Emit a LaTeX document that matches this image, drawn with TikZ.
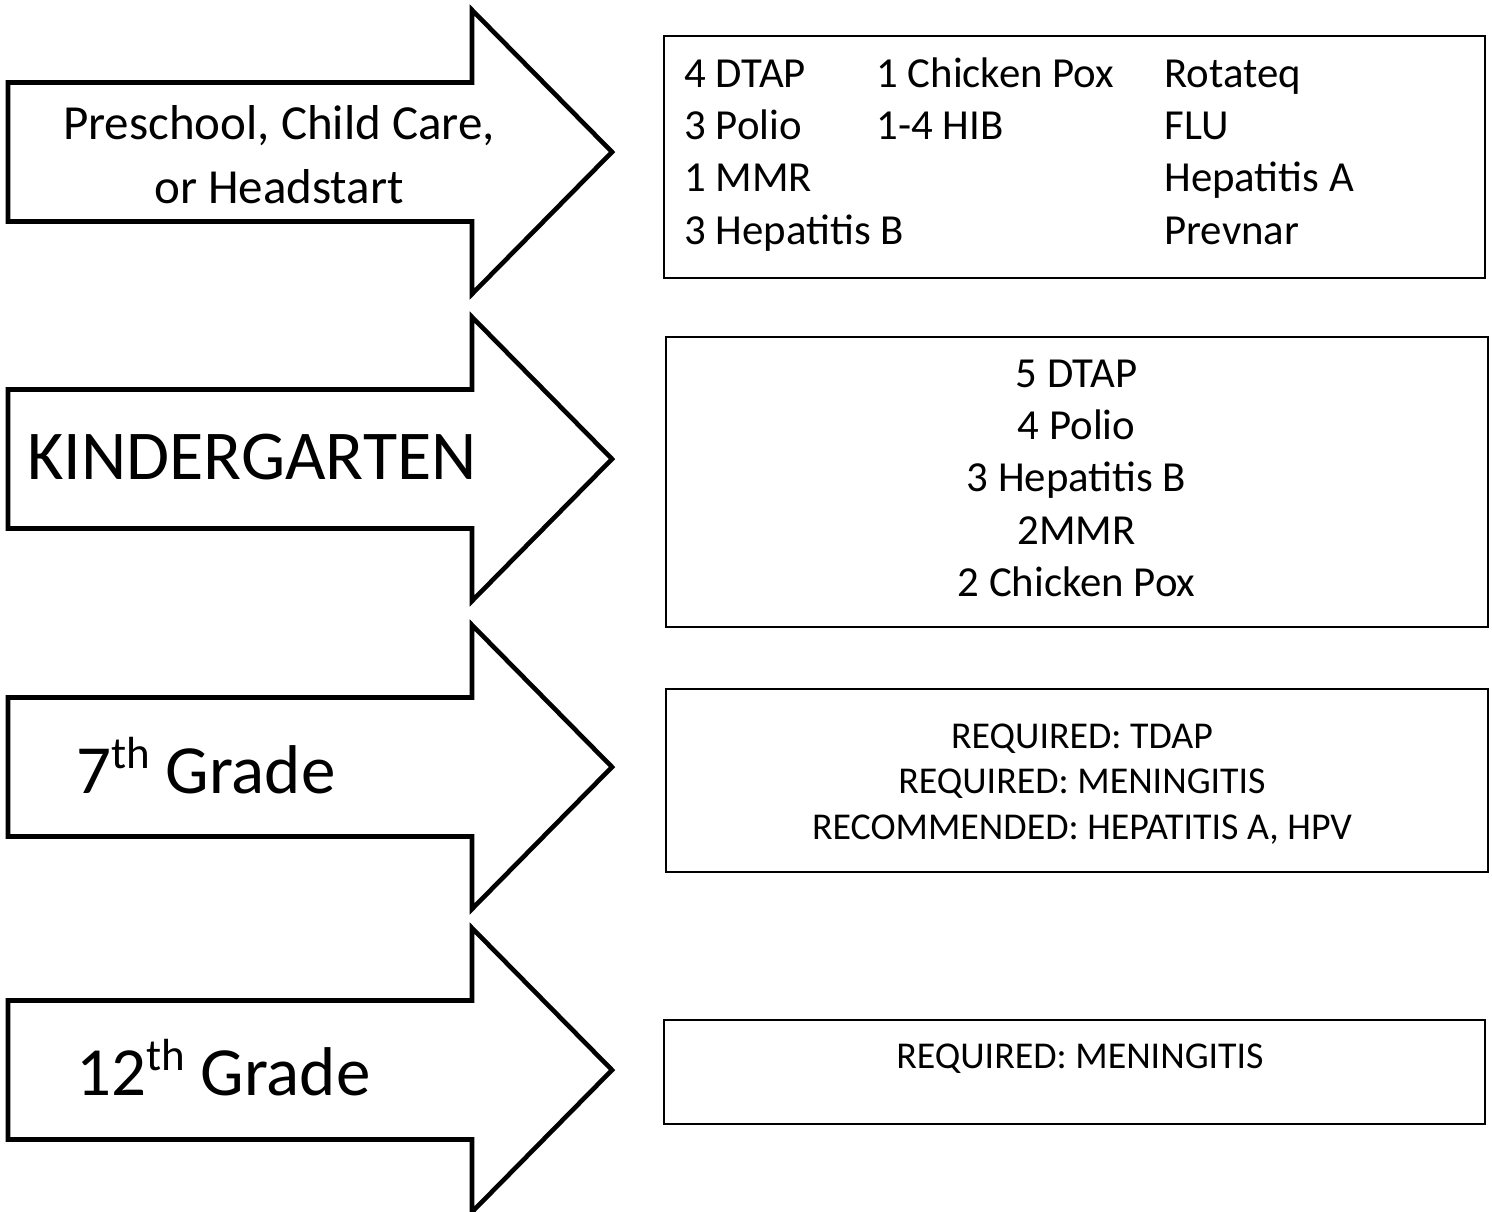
\documentclass[tikz,border=0pt]{standalone}
\usepackage{fontspec}
\setmainfont{Carlito}
\newcommand{\ordsup}[1]{\raisebox{12.5pt}{\fontsize{22.5}{24}\selectfont #1}}
\begin{document}
\begin{tikzpicture}[x=0.5pt,y=-0.5pt]
    \tikzset{
      stagearrow/.style={draw=black,line width=2.3pt,line join=miter,fill=white},
      listbox/.style={draw=black,line width=0.9pt,inner sep=0pt},
      stagetext/.style={inner sep=0pt,align=center},
      bigfont/.style={font=\fontsize{24.5}{32}\selectfont},
      hugefont/.style={font=\fontsize{34.5}{40}\selectfont},
      listtext/.style={inner sep=0pt,align=left,font=\fontsize{21.4}{26.2}\selectfont},
      smalltext/.style={inner sep=0pt,align=center,font=\fontsize{18.95}{22.75}\selectfont}
    }
    \useasboundingbox (0,0) rectangle (1492,1211);
    % Arrows
    \foreach \y in {152,459,767,1070} {
      \draw[stagearrow] (8,\y-69.5) -- (472,\y-69.5) -- (472,\y-142) -- (612,\y)
        -- (472,\y+142) -- (472,\y+69.5) -- (8,\y+69.5) -- cycle;
    }
    % Stage labels (base = last line)
    \node[stagetext,bigfont,anchor=base] (pre) at (279,203) {Preschool, Child Care,\\or Headstart};
    \node[stagetext,font=\fontsize{35}{40}\selectfont,anchor=base west] (kin) at (27,479) {KINDERGARTEN};
    \node[stagetext,hugefont,anchor=base west] (sev) at (76,793) {7\ordsup{th} Grade};
    \node[stagetext,hugefont,anchor=base west] (twe) at (76,1095) {12\ordsup{th} Grade};
    % Boxes
    \node[listbox,minimum width=410.5pt,minimum height=121pt] (box1) at (1074.5,157) {};
    \node[listbox,minimum width=411pt,minimum height=145pt] (box2) at (1077,482) {};
    \node[listbox,minimum width=411pt,minimum height=91.5pt] (box3) at (1077,780.5) {};
    \node[listbox,minimum width=410.5pt,minimum height=52pt] (box4) at (1074.5,1072) {};
    % Vaccines
    \node[listtext,anchor=base west] (colA) at (684,244.2) {4 DTAP\\3 Polio\\1 MMR\\3 Hepatitis B};
    \node[listtext,anchor=base west] (colB) at (876,139.4) {1 Chicken Pox\\1-4 HIB};
    \node[listtext,anchor=base west] (colC) at (1164,244.2) {Rotateq\\FLU\\Hepatitis A\\Prevnar};
    \node[listtext,align=center,anchor=base] (kinlist) at (1076.5,596.6) {5 DTAP\\4 Polio\\3 Hepatitis B\\2MMR\\2 Chicken Pox};
    \node[smalltext,anchor=base] (sevlist) at (1082,839) {REQUIRED: TDAP\\REQUIRED: MENINGITIS\\RECOMMENDED: HEPATITIS A, HPV};
    \node[smalltext,anchor=base] (twelist) at (1080,1068) {REQUIRED: MENINGITIS};
  \end{tikzpicture}
\end{document}
